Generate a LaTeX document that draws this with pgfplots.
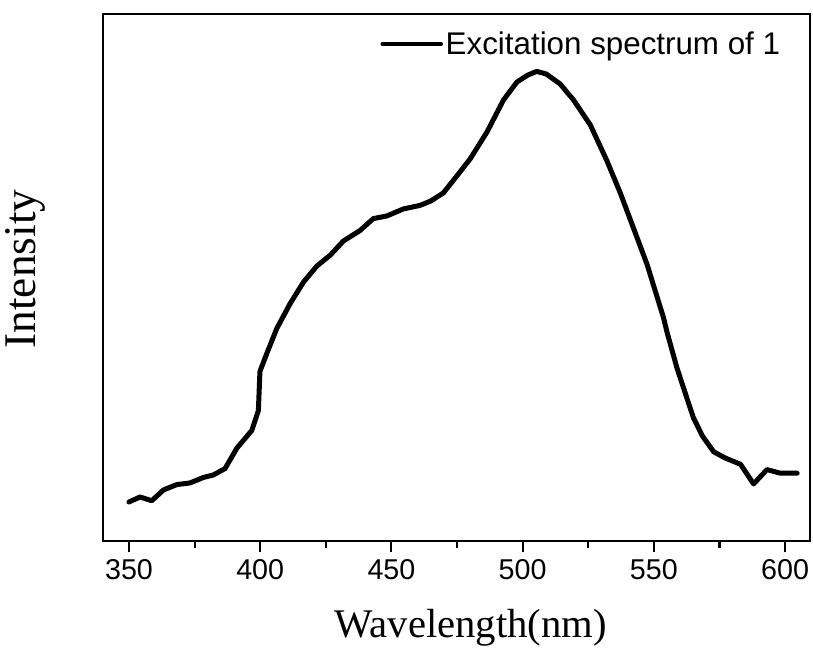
\documentclass[border=0pt]{standalone}
\usepackage{fontspec}
\setmainfont{Liberation Serif}
\newfontfamily\arial{Liberation Sans}
\usepackage{pgfplots}
\pgfplotsset{compat=1.18}
\begin{document}
\begin{tikzpicture}
\path[use as bounding box] (-77.25pt,-79.5pt) rectangle (532.5pt,405.75pt);
\begin{axis}[
  at={(0,0)}, anchor=south west,
  scale only axis,
  width=530.25pt, height=395.25pt,
  xmin=340.1, xmax=609.5,
  ymin=0, ymax=527,
  xtick={350,400,450,500,550,600},
  minor xtick={375,425,475,525,575},
  ytick=\empty,
  xtick pos=bottom,
  tick align=outside,
  major tick length=8.5pt,
  minor tick length=5pt,
  every tick/.style={black, line width=1.6pt},
  axis line style={line width=2pt},
  /pgf/number format/assume math mode=true,
  tick label style={font=\arial\fontsize{21.5}{26}\selectfont},
  xticklabel style={yshift=-2pt},
  xlabel={Wavelength(nm)},
  ylabel={Intensity},
  xlabel style={font=\fontsize{30.5}{36}\selectfont, at={(axis description cs:0.52,-0.184)}, anchor=base},
  ylabel style={font=\fontsize{34}{40}\selectfont, at={(axis description cs:-0.096,0.516)}, anchor=base},
  legend style={draw=none, fill=none, at={(axis description cs:0.392,0.943)}, anchor=west, inner sep=0pt,
    font=\arial\fontsize{23.5}{28}\selectfont},
  legend cell align=left,
  legend image code/.code={\draw[#1, line width=3.5pt] (0pt,0pt) -- (43.5pt,0pt);},
]
\addplot[black, line width=3.75pt, line join=round, line cap=round] coordinates {
(350,39) (354.2,44) (358.7,40.3) (363.1,51) (368.2,56.4) (373.3,58.1)
(378.3,63.5) (382.1,66) (386.6,72.4) (391.1,92.8) (396.8,110.6) (399.3,130.3)
(399.9,169.6) (402.5,187.4) (406.3,212.4) (411.4,237.4) (416.5,258.9)
(421.6,275) (426.6,285.6) (431.7,300) (438.1,310.6) (443.1,322.4)
(448.2,325) (454.6,332.1) (460.9,335.6) (465,340) (469.8,348.1)
(473.6,360.6) (480,382.1) (486.4,408.9) (492.7,441) (497.8,458.9)
(502,466) (505.4,469.6) (509,467) (514.3,457) (519.4,441) (525.8,416)
(532.1,380.3) (537.2,348.1) (542.3,312.4) (547.4,276.7) (553.7,223.1)
(555,209) (558.8,173.1) (562.6,142.8) (565.1,123.1) (568.5,105)
(572.8,89.2) (577.2,83) (583,76.7) (588,57.1) (593.1,71.4) (598.2,67.8) (604.6,67.8)
};
\addlegendentry{Excitation spectrum of 1}
\end{axis}
\end{tikzpicture}
\end{document}
